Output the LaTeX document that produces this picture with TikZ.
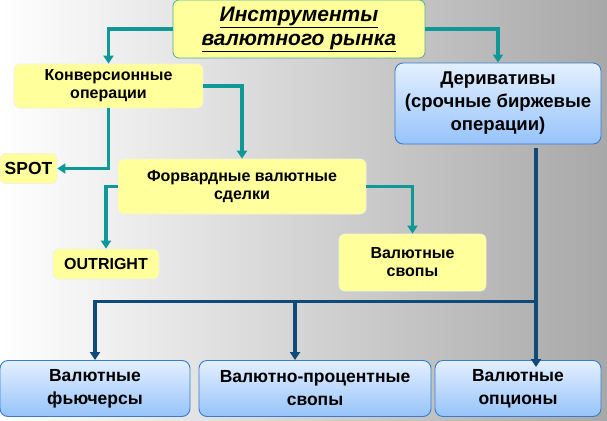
\documentclass[tikz,border=0pt]{standalone}
\usepackage{fontspec}
\setmainfont{Liberation Sans}
\usetikzlibrary{arrows.meta,calc}
\definecolor{tealc}{RGB}{14,152,152}
\definecolor{dblue}{RGB}{16,74,118}
\definecolor{yfill}{RGB}{255,255,155}
\definecolor{yborder}{RGB}{240,245,215}
\definecolor{tborder}{RGB}{80,175,150}
\definecolor{btop}{RGB}{228,240,255}
\definecolor{bbot}{RGB}{150,195,250}
\definecolor{bborder}{RGB}{55,125,205}
\definecolor{bggray}{RGB}{168,168,168}
\tikzset{
  ybox/.style={draw=yborder, line width=0.8pt, fill=yfill, rounded corners=6pt, align=center, font=\bfseries\fontsize{16}{18}\selectfont, inner sep=0pt},
  bbox/.style={draw=bborder, line width=0.9pt, top color=btop, bottom color=bbot, rounded corners=8pt, align=center, font=\bfseries\fontsize{17.5}{23}\selectfont, inner sep=0pt},
  tline/.style={draw=tealc, line width=3.6pt, -{Triangle[width=10pt,length=8pt]}},
  bline/.style={draw=dblue, line width=3.8pt},
  blinea/.style={bline, -{Triangle[width=10pt,length=8pt]}}
}
\begin{document}
\begin{tikzpicture}[x=1pt,y=-1pt]
\useasboundingbox (0,0) rectangle (607,420);
\shade[left color=white, right color=bggray] (0,0) rectangle (607,420);
% nodes
\node[ybox, draw=tborder, minimum width=252pt, minimum height=58pt, font=\bfseries\itshape\fontsize{21}{24}\selectfont] (title) at (299,29) {\underline{Инструменты}\\\underline{валютного рынка}};
\node[ybox, minimum width=189pt, minimum height=44pt] (konv) at (108.5,86) {Конверсионные\\операции};
\node[ybox, minimum width=57pt, minimum height=30pt, font=\bfseries\fontsize{17.5}{18}\selectfont] (spot) at (28.5,168.5) {SPOT};
\node[ybox, minimum width=248pt, minimum height=55pt] (fwd) at (242,186.5) {Форвардные валютные\\сделки};
\node[ybox, minimum width=106pt, minimum height=30pt] (outr) at (106,264) {OUTRIGHT};
\node[ybox, minimum width=147pt, minimum height=57pt] (svop) at (412.5,262.5) {Валютные\\свопы};
\node[bbox, font=\bfseries\fontsize{18.5}{23}\selectfont, minimum width=206pt, minimum height=81pt] (deriv) at (498,103.5) {Деривативы\\(срочные биржевые\\операции)};
\node[bbox, minimum width=190pt, minimum height=56pt] (b1) at (95,388.5) {Валютные\\фьючерсы};
\node[bbox, minimum width=232pt, minimum height=56pt] (b2) at (315,388.5) {Валютно-процентные\\свопы};
\node[bbox, minimum width=166pt, minimum height=56pt] (b3) at (518,388.5) {Валютные\\опционы};
% teal connectors
\draw[tline] (title.west) -| (konv.north);
\draw[tline] (title.east) -| (deriv.north);
\draw[tline] (konv.east) -| (fwd.north);
\draw[tline] (konv.south) |- (spot.east);
\draw[tline] (fwd.west) -| (outr.north);
\draw[tline] (fwd.east) -| (svop.north);
% dark blue connectors
\coordinate (ds) at ([xshift=38pt,yshift=-4pt]deriv.south);
\coordinate (j) at ($(ds)+(0,153)$);
\draw[blinea] (ds) -- ([yshift=-7pt]ds |- b3.north);
\draw[blinea] (j) -| (b1.north);
\draw[blinea] ([xshift=-20pt]b2.north |- j) -- ([xshift=-20pt]b2.north);
\end{tikzpicture}
\end{document}
